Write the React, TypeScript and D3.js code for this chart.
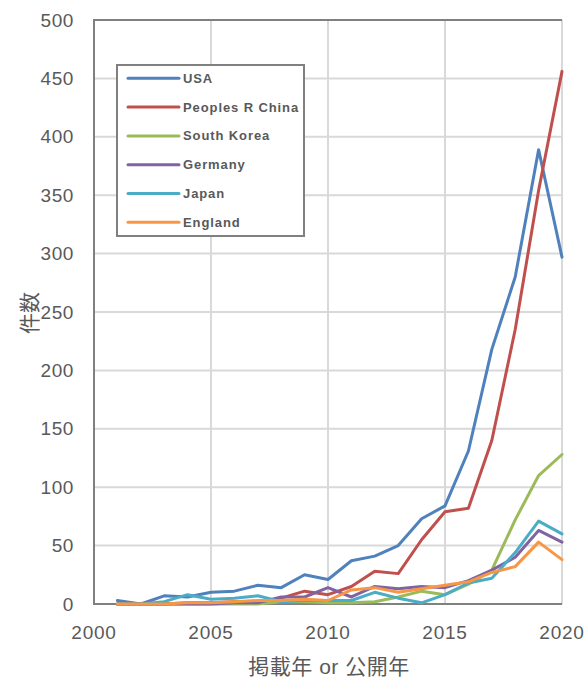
import React from "react";
import * as d3 from "d3";

const years = [2001,2002,2003,2004,2005,2006,2007,2008,2009,2010,2011,2012,2013,2014,2015,2016,2017,2018,2019,2020];
const seriesNames = ["USA", "Peoples R China", "South Korea", "Germany", "Japan", "England"];
const usa = [3,0,7,6,10,11,16,14,25,21,37,41,50,73,84,131,218,280,389,297];
const china = [0,0,0,1,1,2,2,5,11,8,15,28,26,55,79,82,140,235,354,456];
const korea = [0,0,0,0,0,0,0,2,2,1,1,2,6,11,8,17,29,72,110,128];
const germany = [0,0,0,0,0,1,1,6,6,14,6,15,13,15,14,20,29,40,63,53];
const japan = [0,0,2,8,4,5,7,2,3,3,3,10,5,1,8,18,22,44,71,60];
const england = [0,0,0,1,1,2,3,3,4,3,12,14,10,13,16,19,27,32,53,38];
const colors = ["#4F81BD", "#C0504D", "#9BBB59", "#8064A2", "#4BACC6", "#F79646"];
const xTicks = [2000, 2005, 2010, 2015, 2020];
const yTicks = [0, 50, 100, 150, 200, 250, 300, 350, 400, 450, 500];
const xTitle = "掲載年 or 公開年";
const yTitle = "件数";

export default function App() {
  const W = 588, H = 679;
  const left = 94, right = 562, top = 20, bottom = 604;
  const x = d3.scaleLinear().domain([2000, 2020]).range([left, right]);
  const y = d3.scaleLinear().domain([0, 500]).range([bottom, top]);
  const data = [usa, china, korea, germany, japan, england];
  const line = d3.line<number>().x((_, i) => x(years[i])).y((d) => y(d));
  const font = "'Liberation Sans', Arial, 'Noto Sans CJK JP', sans-serif";
  const textColor = "#595959";
  const legX = 117, legY = 65, legW = 187, legH = 171;
  const rowY = (i: number) => 78.3 + i * 28.8;

  return (
    <svg width={W} height={H} style={{ position: "absolute", left: 0, top: 0, background: "#fff" }}>
      <rect x={0} y={0} width={W} height={H} fill="#fff" />
      {yTicks.map((t) => (
        <line key={"gy" + t} x1={left} x2={right} y1={y(t)} y2={y(t)} stroke="#D9D9D9" strokeWidth={2} />
      ))}
      {xTicks.map((t) => (
        <line key={"gx" + t} x1={x(t)} x2={x(t)} y1={top} y2={bottom} stroke="#D9D9D9" strokeWidth={2} />
      ))}
      <line x1={left} x2={right} y1={top} y2={top} stroke="#808080" strokeWidth={2} />
      <line x1={left} x2={left} y1={top - 1} y2={bottom + 1} stroke="#808080" strokeWidth={2} />
      <line x1={left} x2={right} y1={bottom} y2={bottom} stroke="#808080" strokeWidth={2} />
      {data.map((d, i) => (
        <path key={seriesNames[i]} d={line(d) || ""} fill="none" stroke={colors[i]} strokeWidth={3} strokeLinejoin="round" strokeLinecap="round" />
      ))}
      {yTicks.map((t) => (
        <text key={"ly" + t} x={74} y={y(t)} dy="0.35em" textAnchor="end" fontSize={19} fontFamily={font} fill={textColor} letterSpacing={0.6}>
          {t}
        </text>
      ))}
      {xTicks.map((t) => (
        <text key={"lx" + t} x={x(t)} y={632} dy="0.35em" textAnchor="middle" fontSize={19} fontFamily={font} fill={textColor} letterSpacing={0.8}>
          {t}
        </text>
      ))}
      <text x={329} y={667} dy="0.35em" textAnchor="middle" fontSize={21} fontFamily={font} fill={textColor} letterSpacing={0.5}>
        {xTitle}
      </text>
      <text transform={`translate(30,313) rotate(-90)`} dy="0.35em" textAnchor="middle" fontSize={21} fontFamily={font} fill={textColor}>
        {yTitle}
      </text>
      <rect x={legX} y={legY} width={legW} height={legH} fill="#fff" stroke="#808080" strokeWidth={2} />
      {seriesNames.map((n, i) => (
        <g key={"leg" + n}>
          <line x1={128} x2={179} y1={rowY(i)} y2={rowY(i)} stroke={colors[i]} strokeWidth={3} strokeLinecap="round" />
          <text x={183} y={rowY(i)} dy="0.35em" fontSize={13} fontWeight="bold" fontFamily={font} fill={textColor} letterSpacing={0.9}>
            {n}
          </text>
        </g>
      ))}
    </svg>
  );
}
